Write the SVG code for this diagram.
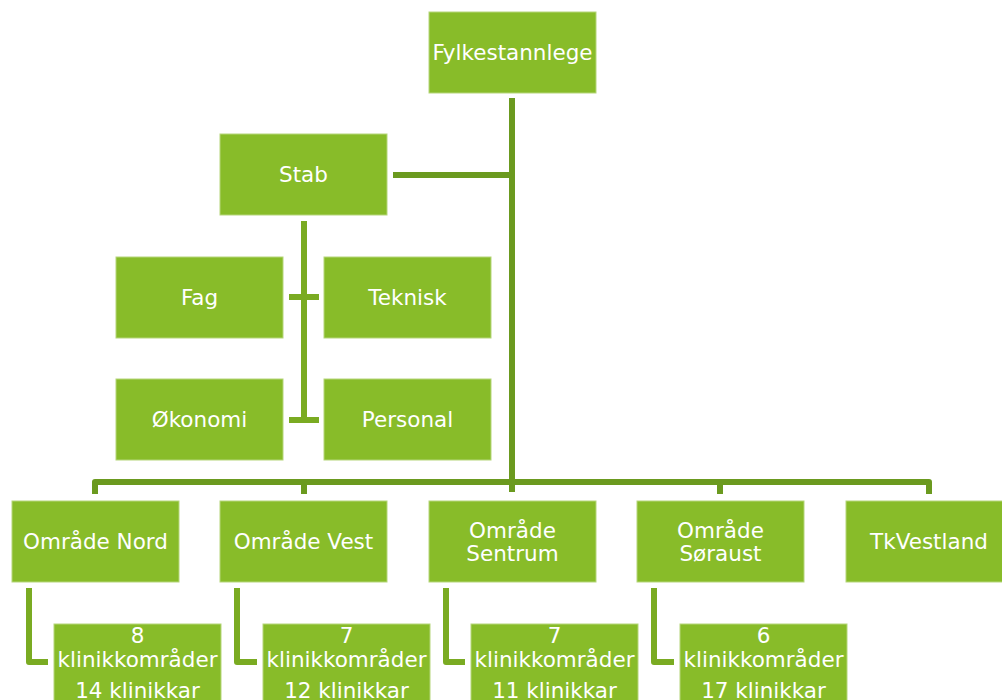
<svg xmlns="http://www.w3.org/2000/svg" width="1002" height="700" viewBox="0 0 1002 700">
<style>
.box{fill:#88bc29;stroke:#b5d67a;stroke-width:1}
.t{font-family:"DejaVu Sans",Verdana,sans-serif;font-size:21.5px;fill:#ffffff;text-anchor:middle}
.main{fill:none;stroke:#6b9a1f;stroke-width:6;stroke-linejoin:round}
.sub{fill:none;stroke:#7aab22;stroke-width:6;stroke-linejoin:round}
</style>
<rect width="1002" height="700" fill="#ffffff"/>
<g id="connectors">
<path class="main" d="M512,98 V492"/>
<path class="main" d="M393,175 H512"/>
<path class="main" d="M95,494 V482 H929 V494"/>
<path class="main" d="M304,482 V494 M720,482 V494"/>
<path class="sub" d="M304,221 V420"/>
<path class="sub" d="M289,297 H319 M289,420 H319"/>
<path class="sub" d="M29,588 V662 H48"/>
<path class="sub" d="M237,588 V662 H257"/>
<path class="sub" d="M446,588 V662 H465"/>
<path class="sub" d="M654,588 V662 H674"/>
</g>
<g id="fylkestannlege"><rect class="box" x="429" y="12" width="167" height="81"/><text class="t" x="512.5" y="60">Fylkestannlege</text></g>
<g id="stab"><rect class="box" x="220" y="134" width="167" height="81"/><text class="t" x="303.5" y="182">Stab</text></g>
<g id="fag"><rect class="box" x="116" y="257" width="167" height="81"/><text class="t" x="199.5" y="305">Fag</text></g>
<g id="teknisk"><rect class="box" x="324" y="257" width="167" height="81"/><text class="t" x="407.5" y="305">Teknisk</text></g>
<g id="okonomi"><rect class="box" x="116" y="379" width="167" height="81"/><text class="t" x="199.5" y="427">Økonomi</text></g>
<g id="personal"><rect class="box" x="324" y="379" width="167" height="81"/><text class="t" x="407.5" y="427">Personal</text></g>
<g id="nord"><rect class="box" x="12" y="501" width="167" height="81"/><text class="t" x="95.5" y="549">Område Nord</text></g>
<g id="vest"><rect class="box" x="220" y="501" width="167" height="81"/><text class="t" x="303.5" y="549">Område Vest</text></g>
<g id="sentrum"><rect class="box" x="429" y="501" width="167" height="81"/><text class="t" x="512.5" y="538">Område</text><text class="t" x="512.5" y="561">Sentrum</text></g>
<g id="soraust"><rect class="box" x="637" y="501" width="167" height="81"/><text class="t" x="720.5" y="538">Område</text><text class="t" x="720.5" y="561">Søraust</text></g>
<g id="tkvestland"><rect class="box" x="846" y="501" width="167" height="81"/><text class="t" x="929" y="549">TkVestland</text></g>
<g id="nord-klinikk"><rect class="box" x="54" y="624" width="167" height="90"/><text class="t" x="137.5" y="643">8</text><text class="t" x="137.5" y="667">klinikkområder</text><text class="t" x="137.5" y="698">14 klinikkar</text></g>
<g id="vest-klinikk"><rect class="box" x="263" y="624" width="167" height="90"/><text class="t" x="346.5" y="643">7</text><text class="t" x="346.5" y="667">klinikkområder</text><text class="t" x="346.5" y="698">12 klinikkar</text></g>
<g id="sentrum-klinikk"><rect class="box" x="471" y="624" width="167" height="90"/><text class="t" x="554.5" y="643">7</text><text class="t" x="554.5" y="667">klinikkområder</text><text class="t" x="554.5" y="698">11 klinikkar</text></g>
<g id="soraust-klinikk"><rect class="box" x="680" y="624" width="167" height="90"/><text class="t" x="763.5" y="643">6</text><text class="t" x="763.5" y="667">klinikkområder</text><text class="t" x="763.5" y="698">17 klinikkar</text></g>
</svg>
